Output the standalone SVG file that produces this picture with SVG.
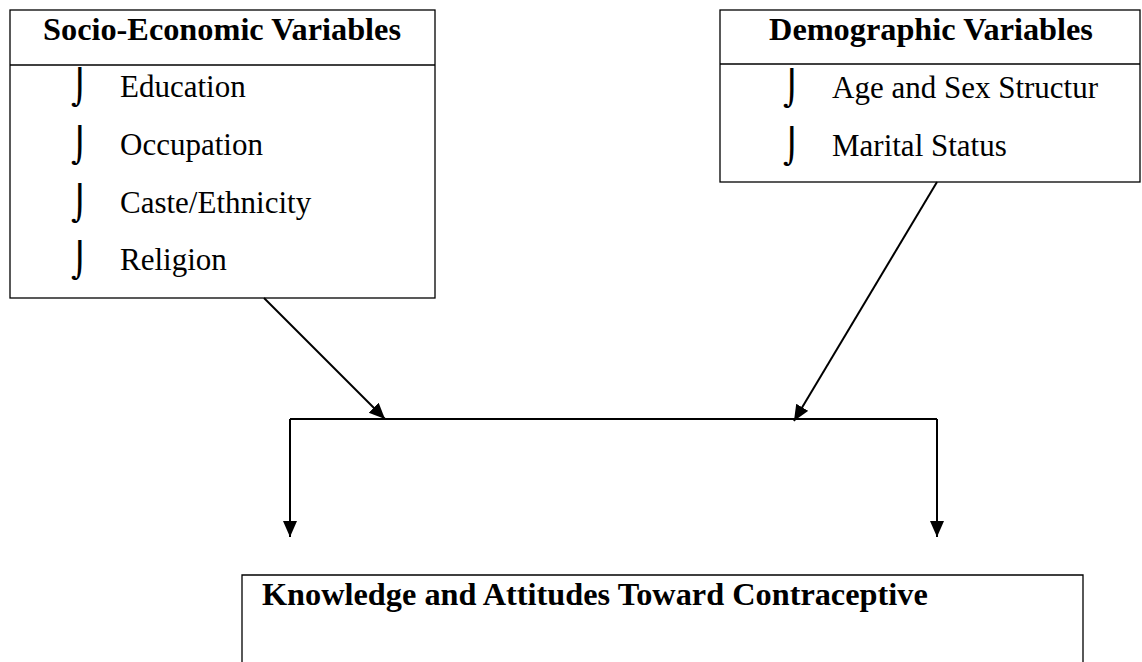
<svg xmlns="http://www.w3.org/2000/svg" width="1142" height="662" viewBox="0 0 1142 662">
<style>
.box{fill:#fff;stroke:#000;stroke-width:1.3}
.div{stroke:#000;stroke-width:1.3}
.hd{font-family:"Liberation Serif",serif;font-weight:bold;font-size:32.3px;fill:#000}
.it{font-family:"Liberation Serif",serif;font-size:31px;fill:#000}
.bl{font-family:"DejaVu Sans",sans-serif;font-size:34px;fill:#000}
.con{fill:none;stroke:#000;stroke-width:2}
</style>
<defs>
<marker id="ah" markerUnits="userSpaceOnUse" markerWidth="17" markerHeight="15" refX="16" refY="7" orient="auto">
<path d="M0,0 L16,7 L0,14 z" fill="#000"/>
</marker>
</defs>
<rect width="1142" height="662" fill="#fff"/>
<g id="socio">
<rect class="box" x="10" y="10" width="425" height="288"/>
<line class="div" x1="10" y1="65" x2="435" y2="65"/>
<text class="hd" x="222" y="40" text-anchor="middle">Socio-Economic Variables</text>
<text class="bl" x="71" y="99">⌡</text><text class="it" x="120" y="97">Education</text>
<text class="bl" x="71" y="157">⌡</text><text class="it" x="120" y="155">Occupation</text>
<text class="bl" x="71" y="215">⌡</text><text class="it" x="120" y="213">Caste/Ethnicity</text>
<text class="bl" x="71" y="272">⌡</text><text class="it" x="120" y="270">Religion</text>
</g>
<g id="demo">
<rect class="box" x="720" y="10" width="420" height="172"/>
<line class="div" x1="720" y1="64" x2="1140" y2="64"/>
<text class="hd" x="931" y="40" text-anchor="middle">Demographic Variables</text>
<text class="bl" x="783" y="100">⌡</text><text class="it" x="832" y="98">Age and Sex Structur</text>
<text class="bl" x="783" y="158">⌡</text><text class="it" x="832" y="156">Marital Status</text>
</g>
<g id="knowledge">
<path class="box" d="M242,663 V575 H1083 V663"/>
<text class="hd" x="262" y="605">Knowledge and Attitudes Toward Contraceptive</text>
</g>
<g id="connectors">
<line class="con" x1="264" y1="298" x2="385" y2="419" marker-end="url(#ah)"/>
<line class="con" x1="937" y1="182" x2="794" y2="421" marker-end="url(#ah)"/>
<path class="con" d="M290,419 H937"/>
<line class="con" x1="290" y1="419" x2="290" y2="537" marker-end="url(#ah)"/>
<line class="con" x1="937" y1="419" x2="937" y2="537" marker-end="url(#ah)"/>
</g>
</svg>
